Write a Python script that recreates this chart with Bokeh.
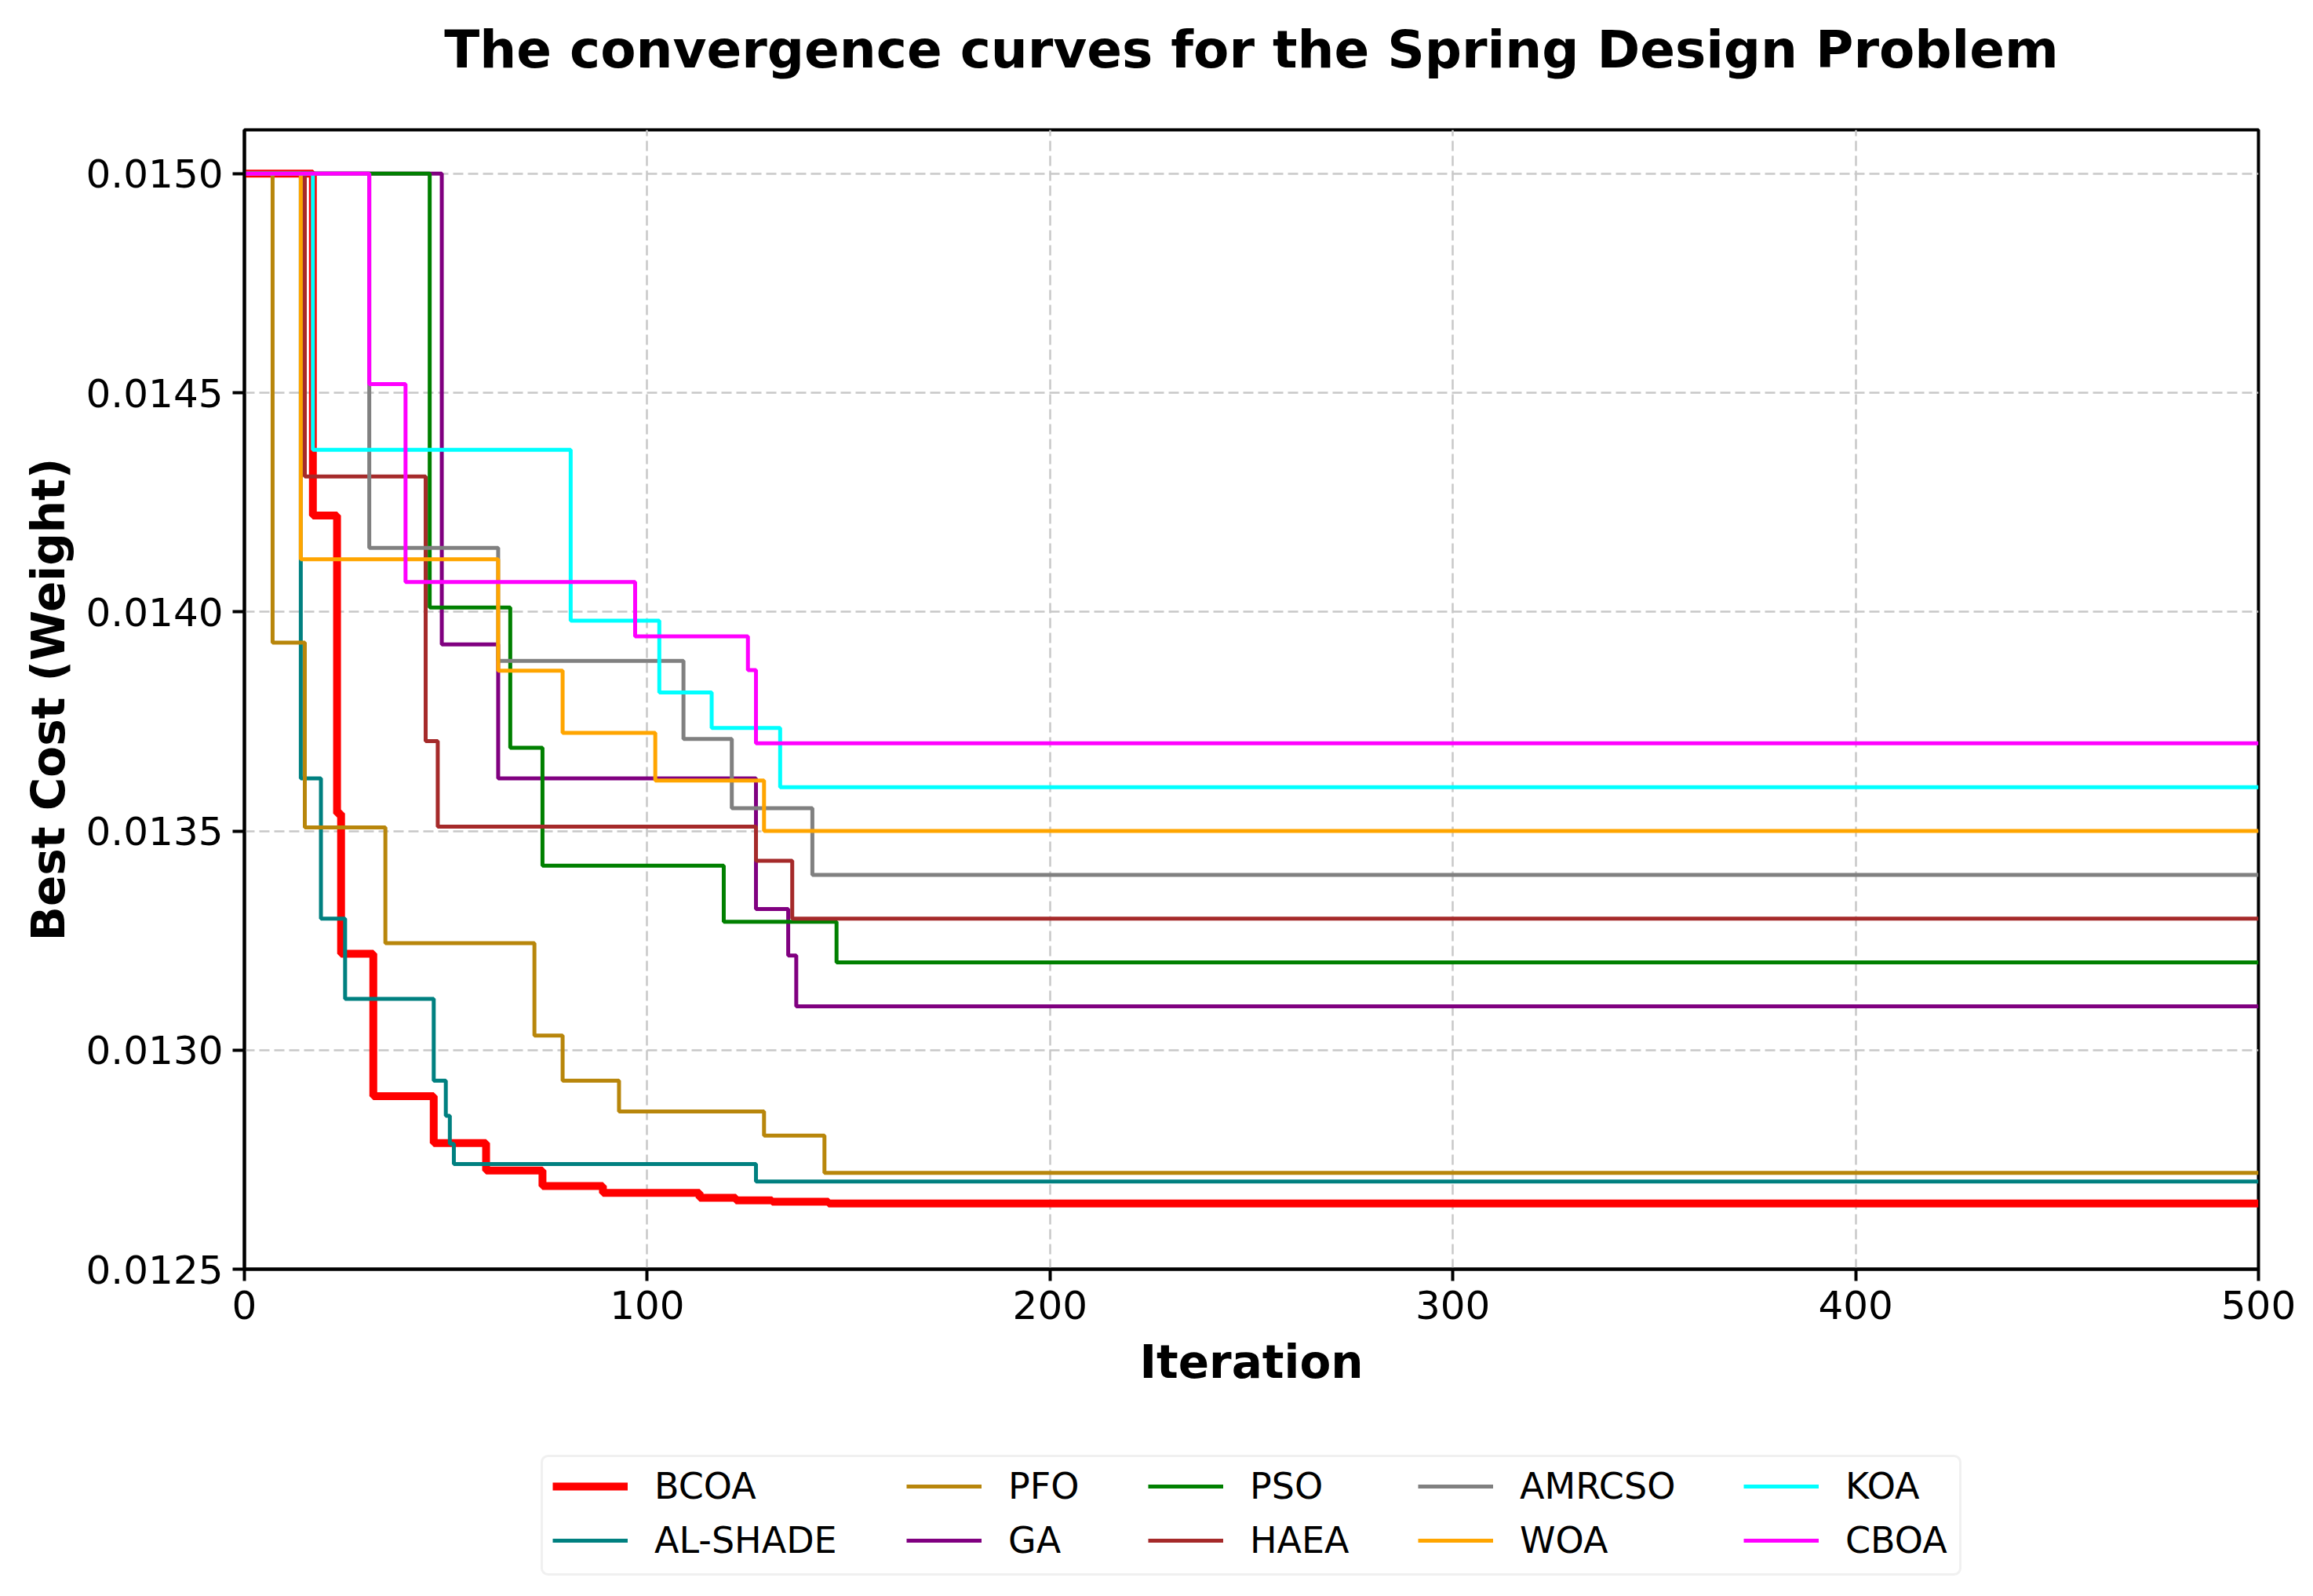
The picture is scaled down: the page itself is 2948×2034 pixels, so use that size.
from bokeh.plotting import figure
from bokeh.layouts import column
from bokeh.models import (Legend, LegendItem, FixedTicker, PrintfTickFormatter, Range1d,
                          Title, BoxAnnotation)
from bokeh.embed import file_html
from bokeh.resources import INLINE

# ---- data ----
names = ["BCOA", "AL-SHADE", "PFO", "GA", "PSO", "HAEA", "AMRCSO", "WOA", "KOA", "CBOA"]
colors = ["#FF0000", "#008080", "#B8860B", "#800080", "#008000",
          "#A52A2A", "#808080", "#FFA500", "#00FFFF", "#FF00FF"]

bcoa_iter = [0, 17, 23, 24, 32, 47, 60, 74, 89, 113, 122, 131, 145, 500]
bcoa_cost = [0.0150, 0.01422, 0.01354, 0.01322, 0.012895, 0.012788, 0.012725,
             0.01269, 0.012674, 0.012663, 0.012657, 0.012654, 0.01265, 0.01265]

alshade_iter = [0, 14, 19, 25, 47, 50, 51, 52, 127, 500]
alshade_cost = [0.0150, 0.01362, 0.01330, 0.013117, 0.01293, 0.01285, 0.012786,
                0.01274, 0.0127, 0.0127]

pfo_iter = [0, 7, 15, 35, 72, 79, 93, 129, 144, 500]
pfo_cost = [0.0150, 0.01393, 0.013508, 0.013244, 0.013033, 0.01293, 0.01286,
            0.012805, 0.01272, 0.01272]

ga_iter = [0, 49, 63, 127, 135, 137, 500]
ga_cost = [0.0150, 0.013926, 0.01362, 0.013322, 0.013216, 0.0131, 0.0131]

pso_iter = [0, 46, 66, 74, 119, 147, 500]
pso_cost = [0.0150, 0.01401, 0.01369, 0.013421, 0.013293, 0.0132, 0.0132]

haea_iter = [0, 15, 45, 48, 127, 136, 500]
haea_cost = [0.0150, 0.014309, 0.013705, 0.01351, 0.013432, 0.0133, 0.0133]

amrcso_iter = [0, 31, 63, 109, 121, 141, 500]
amrcso_cost = [0.0150, 0.014146, 0.013888, 0.01371, 0.013552, 0.0134, 0.0134]

woa_iter = [0, 14, 63, 79, 102, 129, 500]
woa_cost = [0.0150, 0.01412, 0.013866, 0.013724, 0.013615, 0.0135, 0.0135]

koa_iter = [0, 17, 81, 103, 116, 133, 500]
koa_cost = [0.0150, 0.01437, 0.01398, 0.013816, 0.013735, 0.0136, 0.0136]

cboa_iter = [0, 31, 40, 97, 125, 127, 500]
cboa_cost = [0.0150, 0.01452, 0.014068, 0.013944, 0.013867, 0.0137, 0.0137]

x_ticks = [0, 100, 200, 300, 400, 500]
y_ticks = [0.0125, 0.0130, 0.0135, 0.0140, 0.0145, 0.0150]

# legend columns (two entries each, as in the reference)
legend_columns = [("BCOA", "AL-SHADE"), ("PFO", "GA"), ("PSO", "HAEA"),
                  ("AMRCSO", "WOA"), ("KOA", "CBOA")]

series = [
    (bcoa_iter, bcoa_cost), (alshade_iter, alshade_cost), (pfo_iter, pfo_cost),
    (ga_iter, ga_cost), (pso_iter, pso_cost), (haea_iter, haea_cost),
    (amrcso_iter, amrcso_cost), (woa_iter, woa_cost), (koa_iter, koa_cost),
    (cboa_iter, cboa_cost),
]
widths = [10, 5, 5, 5, 5, 5, 5, 5, 5, 5]

FONT = "DejaVu Sans"
W = 2930
LEFT, RIGHT = 311, 52          # plot frame borders (shared by both strips)
FRAME_W = W - LEFT - RIGHT

# ---------------- main chart ----------------
p = figure(width=W, height=1800, output_backend="svg", toolbar_location=None,
           x_range=Range1d(0, 500), y_range=Range1d(0.0125, 0.0151),
           min_border_left=LEFT, min_border_right=RIGHT, min_border_top=165,
           min_border_bottom=183)
p.title.text = ""

spacer = Title(text=" ", text_font_size="20px", standoff=35)
p.add_layout(spacer, "above")
main_title = Title(text="The convergence curves for the Spring Design Problem",
                   text_font=FONT, text_font_size="66px", text_font_style="bold",
                   text_color="black", align="center", standoff=10)
p.add_layout(main_title, "above")

p.background_fill_color = "white"
p.border_fill_color = "white"
p.outline_line_color = "black"
p.outline_line_width = 4

p.xaxis.axis_label = "Iteration"
p.yaxis.axis_label = "Best Cost (Weight)"
for ax in (p.xaxis, p.yaxis):
    ax.axis_label_text_font = FONT
    ax.axis_label_text_font_size = "58px"
    ax.axis_label_text_font_style = "bold"
    ax.axis_label_text_color = "black"
    ax.major_label_text_font = FONT
    ax.major_label_text_font_size = "50px"
    ax.major_label_text_color = "black"
    ax.axis_line_width = 4
    ax.axis_line_color = "black"
    ax.major_tick_line_width = 4
    ax.major_tick_line_color = "black"
    ax.major_tick_out = 15
    ax.major_tick_in = 0
    ax.minor_tick_out = 0
    ax.minor_tick_in = 0
    ax.major_label_standoff = 12

p.xaxis.axis_label_standoff = 18
p.yaxis.axis_label_standoff = 11
p.xaxis.ticker = FixedTicker(ticks=x_ticks)
p.yaxis.ticker = FixedTicker(ticks=y_ticks)
p.yaxis.formatter = PrintfTickFormatter(format="%.4f")

for g in (p.xgrid, p.ygrid):
    g.grid_line_color = "#c8c8c8"
    g.grid_line_width = 2.5
    g.grid_line_dash = "13 6"

for (xs, ys), name, col, w in zip(series, names, colors, widths):
    p.step(xs, ys, mode="after", line_color=col, line_width=w)

# ---------------- legend strip (frame aligned with the chart's frame) ----------------
STRIP_H = 216
X0 = 10000  # strip x-range starts far from the data so the key renderers stay hidden
lg = figure(width=W, height=STRIP_H, output_backend="svg", toolbar_location=None,
            x_range=Range1d(X0, X0 + FRAME_W), y_range=Range1d(0, STRIP_H),
            x_axis_type=None, y_axis_type=None,
            min_border_left=LEFT, min_border_right=RIGHT,
            min_border_top=0, min_border_bottom=0)
lg.title.text = ""
lg.background_fill_color = "white"
lg.border_fill_color = "white"
lg.outline_line_color = None
lg.xgrid.visible = False
lg.ygrid.visible = False

# legend frame box: 690..2498 px across the page, 10..161 px up from the strip's bottom
box_left, box_right, box_bottom, box_top = 690 - LEFT, 2498 - LEFT, 10, 161
lg.add_layout(BoxAnnotation(left=X0 + box_left, right=X0 + box_right,
                            bottom=box_bottom, top=box_top,
                            fill_color="white", fill_alpha=1.0,
                            line_color="#cccccc", line_width=3, level="underlay",
                            border_radius=8))

leg_renderers = {}
for (xs, ys), name, col, w in zip(series, names, colors, widths):
    # same series, outside the strip's visible range: used only as legend keys
    leg_renderers[name] = lg.step(xs, ys, mode="after", line_color=col, line_width=w)

col_offsets = [14, 465, 773, 1117, 1532]
for (top_name, bottom_name), xoff in zip(legend_columns, col_offsets):
    leg = Legend(items=[LegendItem(label=top_name, renderers=[leg_renderers[top_name]]),
                        LegendItem(label=bottom_name, renderers=[leg_renderers[bottom_name]])],
                 location=(box_left + xoff, box_bottom + 16), orientation="vertical",
                 label_text_font=FONT, label_text_font_size="46px",
                 label_text_color="black",
                 glyph_width=96, glyph_height=46, label_standoff=34,
                 label_height=46, label_width=20, spacing=15, padding=0, margin=0,
                 border_line_color=None, background_fill_color=None)
    lg.add_layout(leg)

layout = column(p, lg, spacing=0)
open("out.html", "w").write(file_html(layout, INLINE))
